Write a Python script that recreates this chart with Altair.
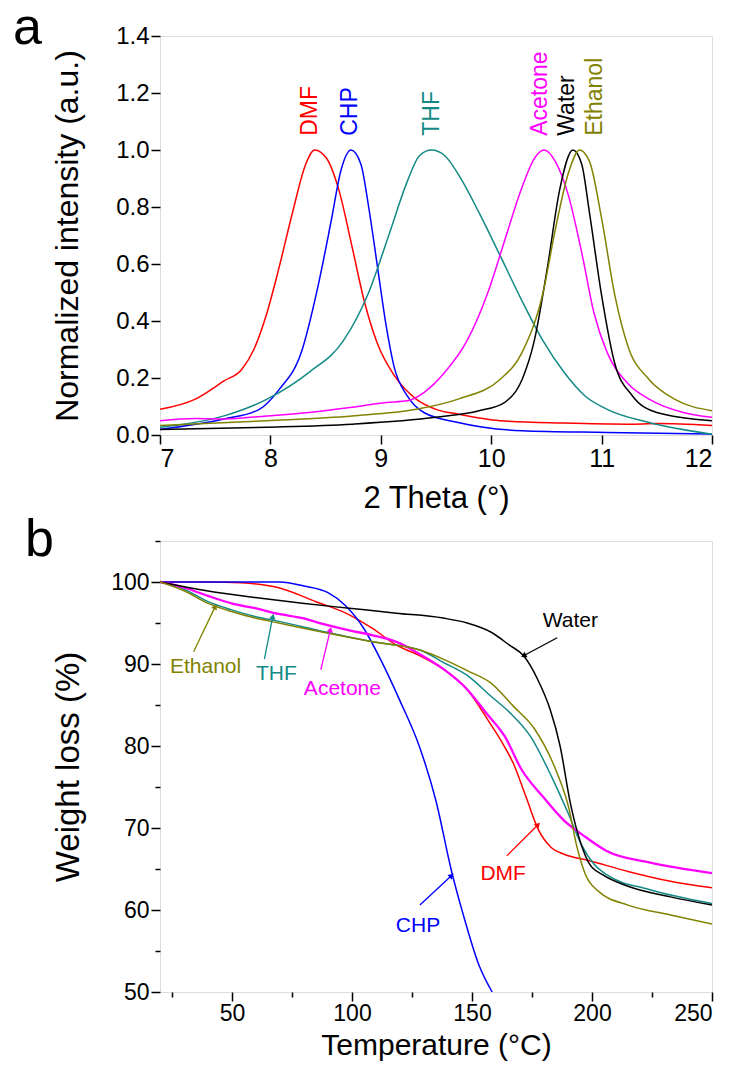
import math
import altair as alt
import pandas as pd

FONT = "Liberation Sans"

# ---------------- Panel a : normalized intensity vs 2 Theta ----------------
series_names = ["DMF", "CHP", "THF", "Acetone", "Water", "Ethanol"]
series_colors = ["#FF0000", "#0000FF", "#138A86", "#FF00FF", "#000000", "#828200"]

dmf_x = [7.0, 7.32, 7.58, 7.74, 7.85, 7.97, 8.08, 8.2, 8.32, 8.40, 8.51, 8.62, 8.74, 8.85, 8.97, 9.12, 9.32, 9.5, 9.7, 10.08, 10.66, 11.24, 11.5, 12.0]
dmf_y = [0.09, 0.126, 0.19, 0.23, 0.30, 0.43, 0.59, 0.78, 0.95, 1.0, 0.97, 0.86, 0.66, 0.47, 0.32, 0.21, 0.126, 0.09, 0.073, 0.05, 0.042, 0.038, 0.04, 0.033]

chp_x = [7.0, 7.58, 7.9, 8.08, 8.28, 8.43, 8.55, 8.64, 8.73, 8.82, 8.89, 8.97, 9.05, 9.12, 9.24, 9.39, 9.7, 10.28, 11.05, 12.0]
chp_y = [0.02, 0.056, 0.09, 0.16, 0.29, 0.52, 0.75, 0.93, 1.0, 0.95, 0.80, 0.59, 0.38, 0.24, 0.137, 0.079, 0.044, 0.015, 0.009, 0.003]

thf_x = [7.0, 7.58, 7.97, 8.35, 8.66, 8.89, 9.08, 9.24, 9.35, 9.46, 9.58, 9.74, 9.89, 10.08, 10.28, 10.47, 10.66, 10.85, 11.05, 11.43, 12.0]
thf_y = [0.027, 0.067, 0.126, 0.22, 0.33, 0.50, 0.71, 0.89, 0.98, 1.0, 0.98, 0.89, 0.78, 0.63, 0.47, 0.33, 0.22, 0.137, 0.09, 0.044, 0.003]

ace_x = [7.0, 7.32, 7.58, 7.97, 8.35, 8.74, 9.05, 9.24, 9.39, 9.58, 9.78, 9.97, 10.12, 10.28, 10.39, 10.48, 10.58, 10.7, 10.82, 10.93, 11.05, 11.24, 11.43, 11.74, 12.0]
ace_y = [0.05, 0.058, 0.056, 0.067, 0.079, 0.097, 0.114, 0.12, 0.149, 0.22, 0.33, 0.50, 0.68, 0.87, 0.97, 1.0, 0.96, 0.84, 0.64, 0.43, 0.29, 0.18, 0.126, 0.079, 0.062]

wat_x = [7.0, 7.97, 8.74, 9.5, 9.89, 10.12, 10.28, 10.39, 10.51, 10.62, 10.74, 10.82, 10.89, 11.0, 11.12, 11.28, 11.5, 12.0]
wat_y = [0.019, 0.027, 0.038, 0.062, 0.085, 0.114, 0.195, 0.33, 0.59, 0.86, 1.0, 0.95, 0.78, 0.49, 0.25, 0.137, 0.079, 0.05]

eth_x = [7.0, 7.97, 8.74, 9.32, 9.7, 10.08, 10.28, 10.47, 10.58, 10.7, 10.8, 10.89, 11.0, 11.12, 11.24, 11.43, 11.66, 12.0]
eth_y = [0.033, 0.05, 0.067, 0.09, 0.126, 0.195, 0.29, 0.50, 0.72, 0.92, 1.0, 0.96, 0.76, 0.49, 0.31, 0.195, 0.126, 0.085]

a_series = [(dmf_x, dmf_y), (chp_x, chp_y), (thf_x, thf_y), (ace_x, ace_y), (wat_x, wat_y), (eth_x, eth_y)]

a_label_x = [8.36, 8.72, 9.46, 10.44, 10.69, 10.94]
a_label_y = [1.05, 1.05, 1.05, 1.05, 1.05, 1.05]

a_x_ticks = [7 + 0.5 * i for i in range(11)]
a_y_ticks = [round(0.1 * i, 1) for i in range(15)]

# ---------------- Panel b : TGA weight loss vs temperature ----------------
tga_dmf_x = [20, 40, 53.8, 69.5, 85, 98.9, 108.7, 118.5, 128.3, 138, 148, 157, 163, 167.2, 172.5, 177.8, 183.1, 188.4, 199, 215, 232.7, 250]
tga_dmf_y = [100, 100, 99.9, 99.3, 97.6, 96.0, 94.3, 92.3, 91.0, 89.4, 86.9, 83.0, 80.2, 77.9, 73.8, 69.7, 67.6, 66.8, 66.0, 64.7, 63.5, 62.7]

tga_chp_x = [20, 40, 60, 70, 80, 90, 97, 105, 112, 120, 128, 135, 141.5, 146, 153, 158.4]
tga_chp_y = [100, 100, 100, 100, 99.5, 98.7, 97.2, 94.3, 90.5, 85.5, 80.0, 73.3, 64.7, 59.8, 53.2, 50.0]

tga_thf_x = [20, 30.2, 40, 49.8, 59.6, 69.5, 89, 108.7, 128.3, 138, 148, 157.8, 166, 174.3, 183.1, 190.2, 195.5, 200.8, 206.1, 223.8, 250]
tga_thf_y = [100, 99.1, 97.6, 96.6, 95.8, 95.2, 93.9, 92.7, 91.7, 90.2, 88.6, 86.1, 84.0, 81.2, 76.3, 71.7, 68.0, 65.6, 64.3, 62.5, 60.8]

tga_ace_x = [20, 30.2, 40, 49.8, 59.6, 69.5, 79.3, 89, 98.9, 108.7, 118.5, 128.3, 138, 148, 156, 163.6, 170.7, 179.6, 188.4, 197.3, 206.1, 223.8, 250]
tga_ace_y = [100, 99.3, 98.3, 97.4, 96.8, 96.1, 95.6, 94.8, 94.1, 93.5, 92.7, 91.2, 89.4, 86.9, 84.0, 81.2, 77.1, 73.8, 70.9, 68.9, 67.2, 65.8, 64.5]

tga_wat_x = [20, 40, 59.6, 79.3, 98.9, 118.5, 138, 148, 157.8, 165.6, 171.5, 177.4, 182.5, 186.7, 191, 195.5, 199, 204.4, 215, 232.7, 250]
tga_wat_y = [100, 98.9, 98.1, 97.4, 96.8, 96.2, 95.6, 95.0, 93.9, 92.3, 91.0, 88.1, 84.5, 80.0, 73.0, 68.0, 65.6, 64.3, 62.9, 61.6, 60.6]

tga_eth_x = [20, 30.2, 40, 49.8, 59.6, 69.5, 89, 108.7, 128.3, 138, 148, 157.8, 167.4, 176, 184.9, 190.2, 193.8, 197.3, 202.6, 215, 232.7, 250]
tga_eth_y = [100, 98.9, 97.4, 96.4, 95.6, 95.0, 93.8, 92.7, 91.7, 90.6, 89.2, 87.7, 84.8, 82.1, 77.1, 72.6, 67.6, 64.3, 62.3, 60.6, 59.4, 58.3]

b_series = [(tga_dmf_x, tga_dmf_y), (tga_chp_x, tga_chp_y), (tga_thf_x, tga_thf_y),
            (tga_ace_x, tga_ace_y), (tga_wat_x, tga_wat_y), (tga_eth_x, tga_eth_y)]

b_label_x = [163.0, 127.5, 68.5, 96.0, 191.0, 39.0]
b_label_y = [64.4, 58.0, 88.8, 86.9, 95.2, 89.6]
# arrows: start (near label) -> end (at curve)
b_arrow_x0 = [164.5, 128.3, 63.5, 87.0, 185.5, 34.0]
b_arrow_y0 = [66.6, 60.6, 90.6, 89.3, 93.2, 91.5]
b_arrow_x1 = [177.5, 141.5, 67.0, 91.0, 171.5, 43.0]
b_arrow_y1 = [70.4, 64.2, 95.8, 94.2, 91.0, 97.0]

b_x_ticks = [25 * i for i in range(1, 11)]
b_y_ticks = [50 + 5 * i for i in range(12)]

# ---------------- layout sizes ----------------
W = 552
HA = 399
HB = 451
B_XDOM = [20, 250]
B_YDOM = [50, 105]

color_scale = alt.Scale(domain=series_names, range=series_colors)


def long_frame(series):
    rows = []
    for name, (xs, ys) in zip(series_names, series):
        for i, (x, y) in enumerate(zip(xs, ys)):
            rows.append({"series": name, "x": x, "y": y, "i": i})
    return pd.DataFrame(rows)


def axis(title, values, minor_test, label_test, fmt, title_pad, label_size, title_size, label_pad):
    return alt.Axis(
        title=title, values=values, format=fmt,
        labelExpr=f"({label_test}) ? datum.label : ''",
        tickSize={"condition": {"test": minor_test, "value": 5}, "value": 9},
        tickColor="black", tickWidth=1.5, domain=False, grid=False,
        labelFont=FONT, labelFontSize=label_size, labelColor="black", labelPadding=label_pad,
        titleFont=FONT, titleFontSize=title_size, titleFontWeight="normal", titleColor="black",
        titlePadding=title_pad)


# ----- panel a -----
dfa = long_frame(a_series)
xa = alt.X("x:Q", scale=alt.Scale(domain=[7, 12], nice=False, zero=False),
           axis=axis("2 Theta (°)", a_x_ticks, "datum.value % 1 !== 0",
                     "datum.value % 1 === 0", "d", 12, 25, 31, 2))
ya = alt.Y("y:Q", scale=alt.Scale(domain=[0, 1.4], nice=False),
           axis=axis("Normalized intensity (a.u.)", a_y_ticks,
                     "round(datum.value * 10) % 2 === 1",
                     "round(datum.value * 10) % 2 === 0", ".1f", 31, 24, 32, 2))

lines_a = alt.Chart(dfa).mark_line(strokeWidth=1.5, clip=True, interpolate="monotone").encode(
    x=xa, y=ya,
    color=alt.Color("series:N", scale=color_scale, legend=None),
    detail="series:N", order="i:Q")

lab_a_df = pd.DataFrame({"series": series_names, "x": a_label_x, "y": a_label_y})
labels_a = alt.Chart(lab_a_df).mark_text(angle=270, align="left", baseline="middle",
                                         font=FONT, fontSize=23).encode(
    x="x:Q", y="y:Q", text="series:N",
    color=alt.Color("series:N", scale=color_scale, legend=None))

tag_a = alt.Chart(pd.DataFrame({"t": ["a"]})).mark_text(
    font=FONT, fontSize=52, align="left", baseline="alphabetic", color="black").encode(
    x=alt.value(-147), y=alt.value(8), text="t:N")

panel_a = alt.layer(lines_a, labels_a, tag_a).properties(width=W, height=HA)

# ----- panel b -----
dfb = long_frame(b_series)
xb = alt.X("x:Q", scale=alt.Scale(domain=B_XDOM, nice=False, zero=False),
           axis=axis("Temperature (°C)", b_x_ticks, "datum.value % 50 !== 0",
                     "datum.value % 50 === 0", "d", 5, 23, 30, 1))
yb = alt.Y("y:Q", scale=alt.Scale(domain=B_YDOM, nice=False, zero=False),
           axis=axis("Weight loss (%)", b_y_ticks, "datum.value % 10 !== 0",
                     "datum.value % 10 === 0", "d", 25, 23, 33, 2))

lines_b = alt.Chart(dfb).mark_line(clip=True, interpolate="monotone").encode(
    x=xb, y=yb,
    color=alt.Color("series:N", scale=color_scale, legend=None),
    strokeWidth=alt.condition(alt.datum.series == "Acetone", alt.value(2.3), alt.value(1.5)),
    detail="series:N", order="i:Q")

ppx = W / (B_XDOM[1] - B_XDOM[0])
ppy = HB / (B_YDOM[1] - B_YDOM[0])
angles = [math.degrees(math.atan2((x1 - x0) * ppx, (y1 - y0) * ppy)) % 360
          for x0, y0, x1, y1 in zip(b_arrow_x0, b_arrow_y0, b_arrow_x1, b_arrow_y1)]
arr_df = pd.DataFrame({"series": series_names, "x": b_arrow_x0, "y": b_arrow_y0,
                       "x2": b_arrow_x1, "y2": b_arrow_y1, "angle": angles})

shafts = alt.Chart(arr_df).mark_rule(strokeWidth=1.3).encode(
    x="x:Q", y="y:Q", x2="x2:Q", y2="y2:Q",
    color=alt.Color("series:N", scale=color_scale, legend=None))
heads = alt.Chart(arr_df).mark_point(shape="triangle-up", filled=True, size=40, opacity=1).encode(
    x="x2:Q", y="y2:Q", angle=alt.Angle("angle:Q", scale=None),
    color=alt.Color("series:N", scale=color_scale, legend=None))

lab_b_df = pd.DataFrame({"series": series_names, "x": b_label_x, "y": b_label_y})
labels_b = alt.Chart(lab_b_df).mark_text(align="center", baseline="middle",
                                         font=FONT, fontSize=21).encode(
    x="x:Q", y="y:Q", text="series:N",
    color=alt.Color("series:N", scale=color_scale, legend=None))

tag_b = alt.Chart(pd.DataFrame({"t": ["b"]})).mark_text(
    font=FONT, fontSize=52, align="left", baseline="alphabetic", color="black").encode(
    x=alt.value(-135), y=alt.value(15), text="t:N")

panel_b = alt.layer(lines_b, shafts, heads, labels_b, tag_b).properties(width=W, height=HB)

chart = alt.vconcat(panel_a, panel_b, spacing=-1).properties(
    padding={"left": 4, "top": -7, "right": 5, "bottom": 5}
).configure_view(stroke="black", strokeWidth=1.5).configure(background="white")

chart.save("out.html", embed_options={"renderer": "svg", "actions": False})
